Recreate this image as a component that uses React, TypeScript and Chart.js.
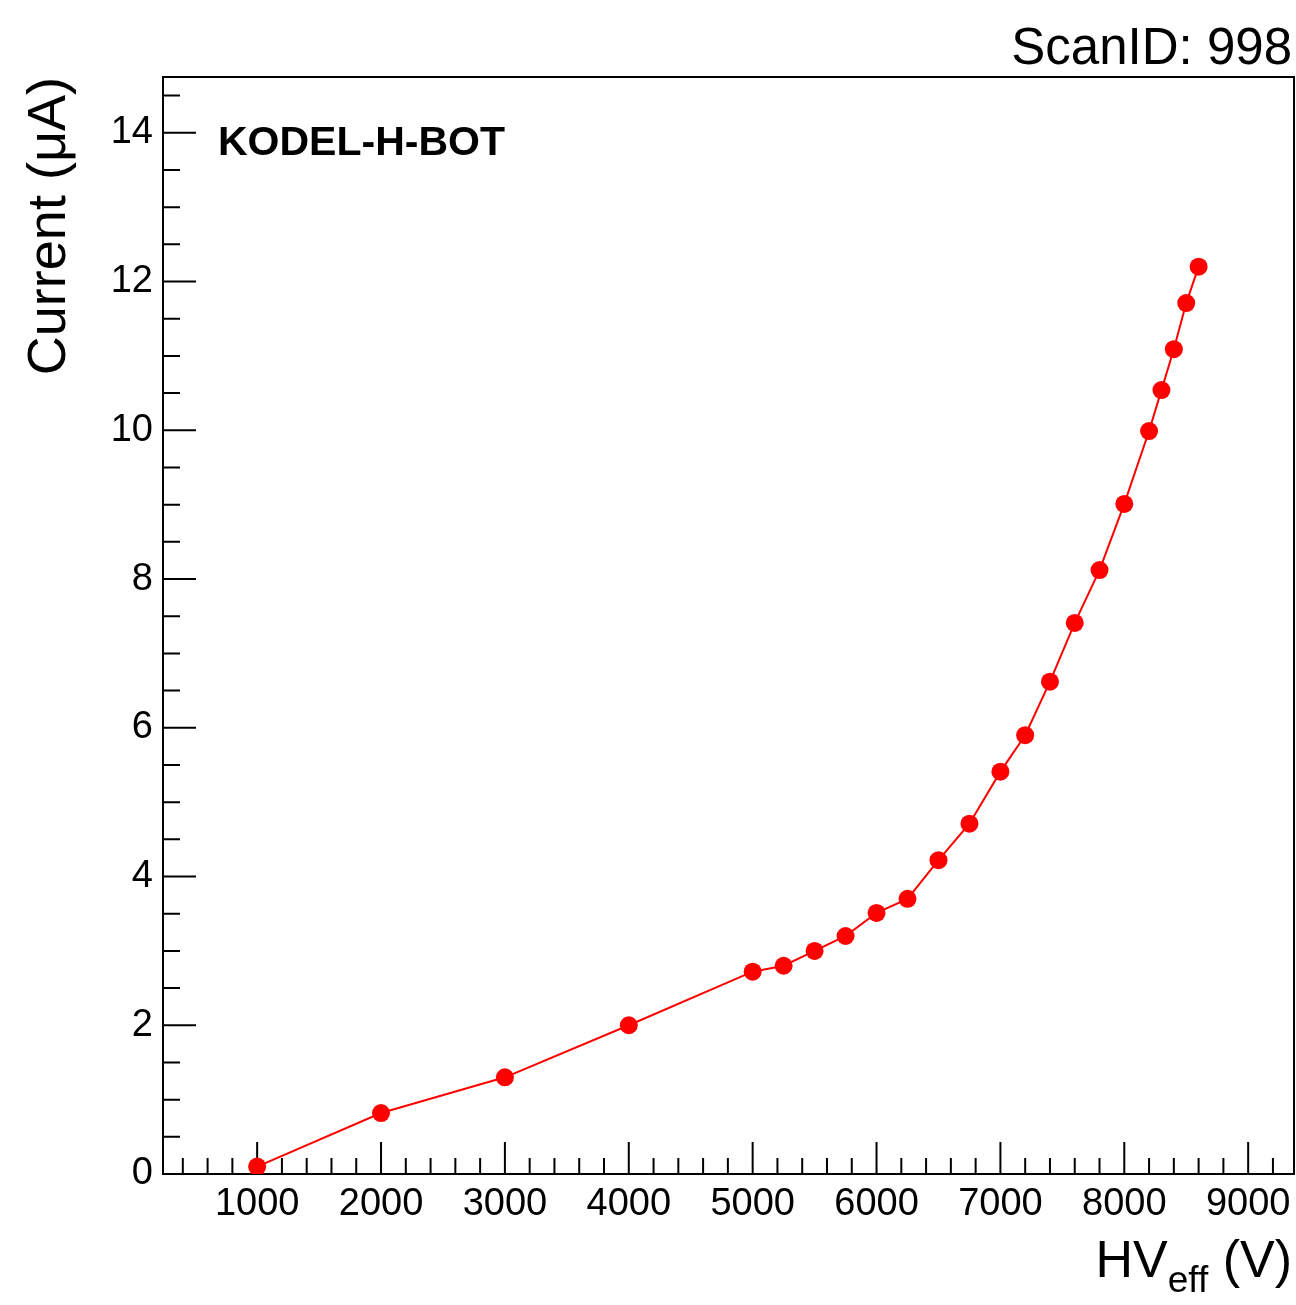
import React, { useEffect, useRef } from "react";
import { Chart, registerables } from "chart.js";

Chart.register(...registerables);

const hvValues = [1000, 2000, 3000, 4000, 5000, 5250, 5500, 5750, 6000, 6250, 6500, 6750, 7000, 7200, 7400, 7600, 7800, 8000, 8200, 8300, 8400, 8500, 8600];
const currentValues = [0.1, 0.82, 1.3, 2.0, 2.72, 2.8, 3.0, 3.2, 3.51, 3.7, 4.22, 4.71, 5.41, 5.9, 6.62, 7.41, 8.12, 9.01, 9.99, 10.54, 11.09, 11.71, 12.2];
const xTickValues = [1000, 2000, 3000, 4000, 5000, 6000, 7000, 8000, 9000];
const yTickValues = [0, 2, 4, 6, 8, 10, 12, 14];
const chartLabel = "KODEL-H-BOT";
const titleText = "ScanID: 998";
const yTitle = "Current (μA)";

const FONT = "'Liberation Sans', Arial, Helvetica, sans-serif";

const rootStylePlugin = {
  id: "rootStyle",
  beforeDatasetsDraw(chart: any) {
    const { ctx, chartArea: a, scales } = chart;
    const xs = scales.x;
    const ys = scales.y;
    ctx.save();
    ctx.strokeStyle = "#000";
    ctx.lineWidth = 2;
    ctx.strokeRect(a.left, a.top, a.right - a.left, a.bottom - a.top);
    ctx.lineWidth = 2;
    ctx.beginPath();
    for (let v = 0; v <= 9400; v += 200) {
      if (v < xs.min || v > xs.max) continue;
      const px = xs.getPixelForValue(v);
      const len = v % 1000 === 0 ? 32 : 16;
      ctx.moveTo(px, a.bottom);
      ctx.lineTo(px, a.bottom - len);
    }
    for (let v = 0; v <= 14.75; v += 0.5) {
      const py = ys.getPixelForValue(v);
      const len = Math.abs(v % 2) < 1e-6 ? 33 : 17;
      ctx.moveTo(a.left, py);
      ctx.lineTo(a.left + len, py);
    }
    ctx.stroke();
    ctx.restore();
  },
  afterDraw(chart: any) {
    const { ctx } = chart;
    ctx.save();
    ctx.fillStyle = "#000";
    ctx.font = `bold 41px ${FONT}`;
    ctx.textAlign = "left";
    ctx.textBaseline = "alphabetic";
    ctx.fillText(chartLabel, 218, 155);
    ctx.font = `51px ${FONT}`;
    ctx.textAlign = "right";
    ctx.fillText(titleText, 1292, 64);
    const big = `52px ${FONT}`;
    const small = `37px ${FONT}`;
    ctx.font = big;
    const wHV = ctx.measureText("HV").width;
    const wV = ctx.measureText(" (V)").width;
    ctx.font = small;
    const wEff = ctx.measureText("eff").width;
    const right = 1292;
    let x = right - wV - wEff - wHV;
    ctx.textAlign = "left";
    ctx.font = big;
    ctx.fillText("HV", x, 1277);
    x += wHV;
    ctx.font = small;
    ctx.fillText("eff", x, 1292);
    x += wEff;
    ctx.font = big;
    ctx.fillText(" (V)", x, 1277);
    ctx.restore();
  },
};

export default function App() {
  const canvasRef = useRef<HTMLCanvasElement | null>(null);

  useEffect(() => {
    if (!canvasRef.current) return;
    const chart = new Chart(canvasRef.current, {
      type: "line",
      data: {
        datasets: [
          {
            data: hvValues.map((v, i) => ({ x: v, y: currentValues[i] })),
            borderColor: "#ff0000",
            backgroundColor: "#ff0000",
            borderWidth: 2,
            pointRadius: 9,
            pointBorderWidth: 0,
            pointBackgroundColor: "#ff0000",
            tension: 0,
          },
        ],
      },
      options: {
        animation: false,
        responsive: false,
        maintainAspectRatio: false,
        layout: { autoPadding: false, padding: { top: 77, right: 2, left: 0, bottom: 0 } },
        plugins: {
          legend: { display: false },
          tooltip: { enabled: false },
        },
        scales: {
          x: {
            type: "linear",
            min: 240,
            max: 9370,
            afterBuildTicks: (s: any) => {
              s.ticks = xTickValues.map((v) => ({ value: v }));
            },
            afterFit: (s: any) => {
              s.height = 131;
              s.paddingLeft = 0;
              s.paddingRight = 0;
            },
            grid: { display: false, drawTicks: false },
            border: { display: false },
            ticks: {
              padding: 8,
              maxRotation: 0,
              autoSkip: false,
              color: "#000",
              font: { family: FONT, size: 38 },
              callback: (v: any) => String(v),
            },
          },
          y: {
            type: "linear",
            min: 0,
            max: 14.75,
            afterBuildTicks: (s: any) => {
              s.ticks = yTickValues.map((v) => ({ value: v }));
            },
            afterFit: (s: any) => {
              s.width = 163;
              s.paddingTop = 0;
              s.paddingBottom = 0;
            },
            grid: { display: false, drawTicks: false },
            border: { display: false },
            title: {
              display: true,
              text: yTitle,
              align: "end",
              color: "#000",
              font: { family: FONT, size: 54 },
              padding: { top: 18, bottom: 0 },
            },
            ticks: {
              padding: 10,
              autoSkip: false,
              color: "#000",
              font: { family: FONT, size: 38 },
              callback: (v: any) => String(v),
            },
          },
        },
      },
      plugins: [rootStylePlugin],
    });
    return () => chart.destroy();
  }, []);

  return (
    <div style={{ position: "fixed", left: 0, top: 0, width: 1296, height: 1305, background: "#fff" }}>
      <canvas ref={canvasRef} width={1296} height={1305} style={{ width: 1296, height: 1305, display: "block" }} />
    </div>
  );
}
